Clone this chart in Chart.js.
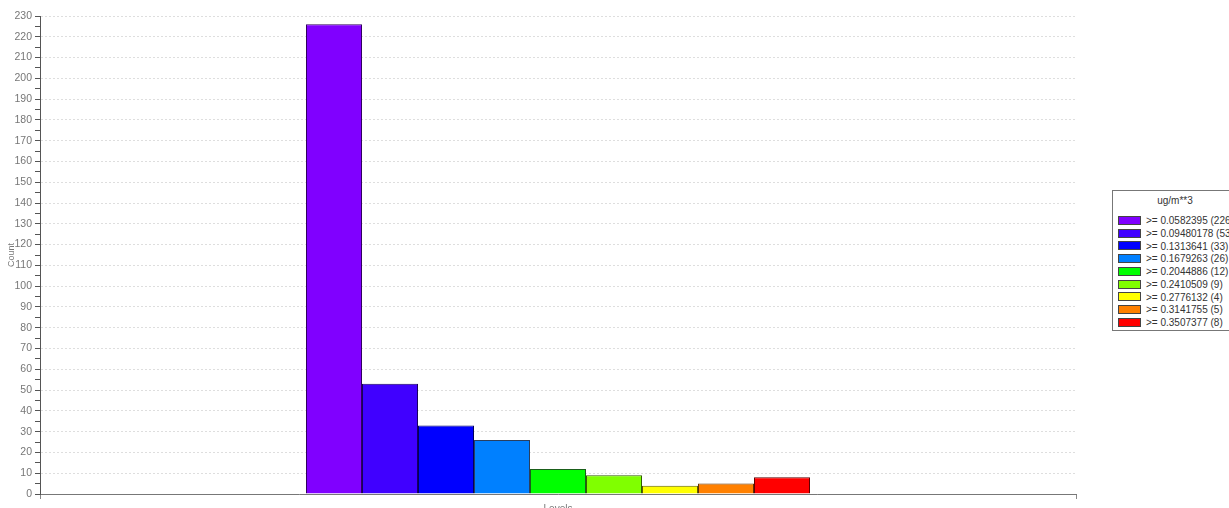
<!DOCTYPE html>
<html>
<head>
<meta charset="utf-8">
<script src="https://cdn.jsdelivr.net/npm/chart.js@4.4.0/dist/chart.umd.min.js"></script>
<style>
    html, body { margin: 0; padding: 0; background: #fff; overflow: hidden; }
    #wrap { position: relative; width: 1229px; height: 508px; overflow: hidden; }
    #box { position: absolute; left: 0; top: 0; width: 1229px; height: 522px; }
    #legend {
        position: absolute; left: 1112px; top: 190px; width: 130px; height: 141px;
        border: 1px solid #777; box-sizing: border-box; background: #fff;
        font-family: "Liberation Sans", Arial, sans-serif; font-size: 10px; color: #333;
    }
    #legend .title { position: absolute; left: 0; width: 124px; top: 4px; text-align: center; }
    #legend .row { position: absolute; left: 5px; height: 12px; line-height: 12px; white-space: nowrap; }
    #legend .sw { display: inline-block; width: 21px; height: 7px; border: 1px solid #444; vertical-align: middle; margin-right: 5px; margin-top: -2px; }
</style>
</head>
<body>
<div id="wrap">
    <div id="box"><canvas id="myChart"></canvas></div>
    <div id="legend"></div>
</div>
<script>
const unitLabel = 'ug/m**3';
const axisTitleX = 'Levels';
const axisTitleY = 'Count';
const categories = [''];
const levels = ['>= 0.0582395', '>= 0.09480178', '>= 0.1313641', '>= 0.1679263', '>= 0.2044886',
    '>= 0.2410509', '>= 0.2776132', '>= 0.3141755', '>= 0.3507377'];
const counts = [226, 53, 33, 26, 12, 9, 4, 5, 8];
const yMin = 0;
const yMax = 230;

const fillColors = ['#8000ff', '#4000ff', '#0000ff', '#0080ff', '#00ff00', '#80ff00', '#ffff00', '#ff8000', '#ff0000'];
const edgeColors = ['#30005f', '#18005f', '#00005f', '#2a3f5f', '#1a5f1a', '#305f00', '#5f5f00', '#5f3000', '#5f0000'];

const fontFamily = '"Liberation Sans", Arial, sans-serif';

const datasets = levels.map((lv, i) => ({
    label: lv + ' (' + counts[i] + ')',
    data: [counts[i]],
    backgroundColor: fillColors[i],
    borderColor: edgeColors[i],
    borderWidth: 1,
    inflateAmount: 0,
    categoryPercentage: 504 / 1036,
    barPercentage: 1
}));

new Chart(document.getElementById('myChart'), {
    type: 'bar',
    data: { labels: categories, datasets: datasets },
    options: {
        responsive: true,
        maintainAspectRatio: false,
        animation: false,
        layout: { padding: { top: 16, right: 153, bottom: 0, left: 0 } },
        plugins: {
            legend: { display: false },
            tooltip: { enabled: false }
        },
        scales: {
            x: {
                afterFit: function(scale) { scale.height = 28; },
                ticks: { display: false },
                grid: { drawOnChartArea: false, drawTicks: true, tickLength: 5, color: '#888' },
                border: { color: '#777', width: 1 },
                title: {
                    display: true, text: axisTitleX, color: '#777',
                    font: { family: fontFamily, size: 10 },
                    padding: { top: 0, bottom: 7 }
                }
            },
            y: {
                min: yMin,
                max: yMax,
                afterFit: function(scale) { scale.width = 40; },
                ticks: {
                    stepSize: 5,
                    autoSkip: false,
                    padding: 3,
                    color: '#777',
                    font: { family: fontFamily, size: 10.5 },
                    callback: function(v) { return v % 10 === 0 ? v : ''; }
                },
                grid: {
                    tickLength: 5,
                    tickColor: '#555',
                    color: function(c) { return c.tick && c.tick.value % 10 === 0 ? '#dedede' : 'rgba(0,0,0,0)'; }
                },
                border: { color: '#555', width: 1, dash: [2, 2] },
                title: {
                    display: true, text: axisTitleY, color: '#777',
                    font: { family: fontFamily, size: 9 },
                    padding: { top: 6, bottom: 0 }
                }
            }
        }
    }
});

// legend drawn as html box on the right
const legendDiv = document.getElementById('legend');
let html = '<div class="title">' + unitLabel + '</div>';
levels.forEach((lv, i) => {
    html += '<div class="row" style="top:' + (24 + i * 12.75) + 'px"><span class="sw" style="background:' + fillColors[i] + '"></span>' + lv + ' (' + counts[i] + ')</div>';
});
legendDiv.innerHTML = html;
</script>
</body>
</html>
